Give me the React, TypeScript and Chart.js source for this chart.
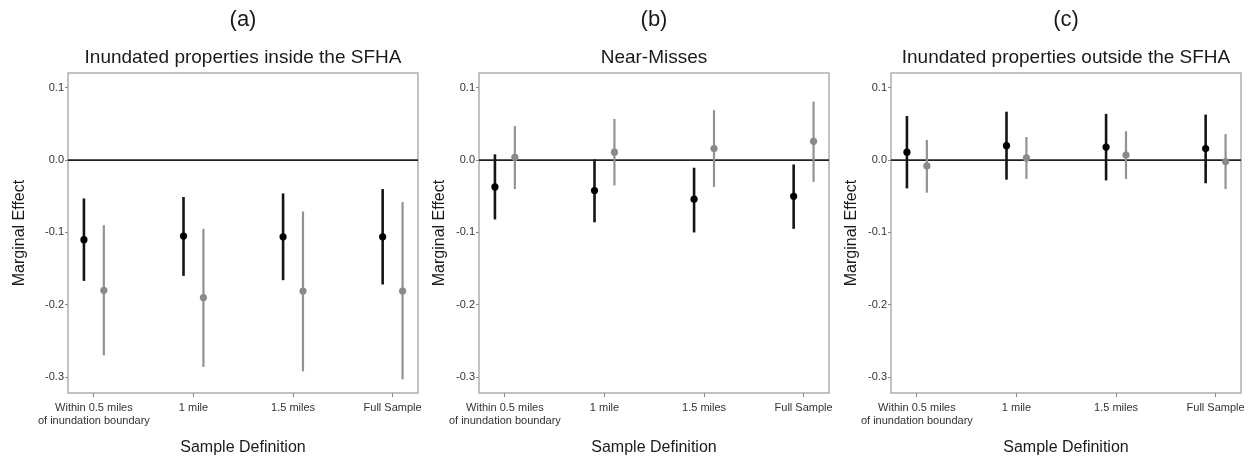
import React, { useEffect, useRef } from "react";
import { Chart, registerables } from "chart.js";

Chart.register(...registerables);

// ---------- data ----------
const CATEGORIES: (string | string[])[] = [
  ["Within 0.5 miles", "of inundation boundary"],
  "1 mile",
  "1.5 miles",
  "Full Sample",
];
const CATEGORY_POS = [1, 2, 3, 4];
const SERIES_OFFSET = 0.1;
const Y_TICKS = [-0.3, -0.2, -0.1, 0.0, 0.1];
const PANEL_LABELS = ["(a)", "(b)", "(c)"];
const PANEL_TITLES = [
  "Inundated properties inside the SFHA",
  "Near-Misses",
  "Inundated properties outside the SFHA",
];
const X_TITLE = "Sample Definition";
const Y_TITLE = "Marginal Effect";

// panel (a)
const A_BLACK_EST = [-0.11, -0.105, -0.106, -0.106];
const A_BLACK_LO = [-0.167, -0.16, -0.166, -0.172];
const A_BLACK_HI = [-0.053, -0.051, -0.046, -0.04];
const A_GRAY_EST = [-0.18, -0.19, -0.181, -0.181];
const A_GRAY_LO = [-0.27, -0.286, -0.292, -0.303];
const A_GRAY_HI = [-0.09, -0.095, -0.071, -0.058];

// panel (b)
const B_BLACK_EST = [-0.037, -0.042, -0.054, -0.05];
const B_BLACK_LO = [-0.082, -0.086, -0.1, -0.095];
const B_BLACK_HI = [0.008, 0.001, -0.0105, -0.006];
const B_GRAY_EST = [0.004, 0.011, 0.016, 0.026];
const B_GRAY_LO = [-0.04, -0.035, -0.037, -0.03];
const B_GRAY_HI = [0.047, 0.057, 0.069, 0.081];

// panel (c)
const C_BLACK_EST = [0.011, 0.02, 0.018, 0.016];
const C_BLACK_LO = [-0.039, -0.027, -0.028, -0.032];
const C_BLACK_HI = [0.061, 0.067, 0.064, 0.063];
const C_GRAY_EST = [-0.008, 0.003, 0.007, -0.002];
const C_GRAY_LO = [-0.045, -0.026, -0.026, -0.04];
const C_GRAY_HI = [0.028, 0.032, 0.04, 0.036];

const Y_MIN = -0.322;
const Y_MAX = 0.1205;
const X_MIN = 0.74;
const X_MAX = 4.255;

// ---------- styling ----------
const FONT = "'Liberation Sans', Arial, Helvetica, sans-serif";
const W = 440;
const H = 462;
const BLACK = "#000000";
const BLACK_BAR = "#151515";
const GRAY = "#8a8a8a";
const GRAY_BAR = "#929292";

const framePlugin = {
  id: "frameZero",
  beforeDatasetsDraw(chart: any) {
    const { ctx, chartArea, scales } = chart;
    const { left, top, right, bottom } = chartArea;
    ctx.save();
    ctx.strokeStyle = "#9a9a9a";
    ctx.lineWidth = 1.2;
    ctx.strokeRect(left, top, right - left, bottom - top);
    const y0 = scales.y.getPixelForValue(0);
    ctx.strokeStyle = "#222222";
    ctx.lineWidth = 1.6;
    ctx.beginPath();
    ctx.moveTo(left, y0);
    ctx.lineTo(right, y0);
    ctx.stroke();
    ctx.restore();
  },
};

type PanelProps = {
  left: number;
  index: number;
  yTitlePad: number;
  bEst: number[];
  bLo: number[];
  bHi: number[];
  gEst: number[];
  gLo: number[];
  gHi: number[];
};

function Panel(p: PanelProps) {
  const ref = useRef<HTMLCanvasElement | null>(null);
  useEffect(() => {
    if (!ref.current) return;
    const chart = new Chart(ref.current, {
      type: "scatter",
      data: {
        datasets: [
          {
            type: "bar",
            data: CATEGORY_POS.map((x, i) => ({ x: x - SERIES_OFFSET, y: [p.bLo[i], p.bHi[i]] })),
            backgroundColor: BLACK_BAR,
            borderWidth: 0,
            maxBarThickness: 2.6,
            grouped: false,
            order: 3,
          } as any,
          {
            type: "bar",
            data: CATEGORY_POS.map((x, i) => ({ x: x + SERIES_OFFSET, y: [p.gLo[i], p.gHi[i]] })),
            backgroundColor: GRAY_BAR,
            borderWidth: 0,
            maxBarThickness: 2.2,
            grouped: false,
            order: 3,
          } as any,
          {
            type: "scatter",
            data: CATEGORY_POS.map((x, i) => ({ x: x - SERIES_OFFSET, y: p.bEst[i] })),
            backgroundColor: BLACK,
            borderWidth: 0,
            pointRadius: 3.6,
            order: 1,
          },
          {
            type: "scatter",
            data: CATEGORY_POS.map((x, i) => ({ x: x + SERIES_OFFSET, y: p.gEst[i] })),
            backgroundColor: GRAY,
            borderWidth: 0,
            pointRadius: 3.6,
            order: 1,
          },
        ],
      },
      options: {
        animation: false,
        responsive: false,
        devicePixelRatio: 1,
        events: [],
        layout: { padding: { left: 0, right: W - 418, top: 0, bottom: 0 } },
        plugins: {
          legend: { display: false },
          tooltip: { enabled: false },
          title: {
            display: true,
            text: PANEL_LABELS[p.index],
            fullSize: false,
            color: "#1a1a1a",
            font: { family: FONT, size: 22, weight: "normal" },
            padding: { top: 6.8, bottom: 0 },
          },
          subtitle: {
            display: true,
            text: PANEL_TITLES[p.index],
            fullSize: false,
            color: "#1a1a1a",
            font: { family: FONT, size: 19, weight: "normal" },
            padding: { top: 13.4, bottom: 3.6 },
          },
        },
        scales: {
          x: {
            type: "linear",
            min: X_MIN,
            max: X_MAX,
            offset: false,
            afterBuildTicks: (s: any) => {
              s.ticks = CATEGORY_POS.map((v) => ({ value: v }));
            },
            afterFit: (s: any) => {
              s.height = H - 393;
            },
            ticks: {
              autoSkip: false,
              maxRotation: 0,
              padding: 4,
              color: "#333333",
              font: { family: FONT, size: 11, lineHeight: 1.22 },
              callback: (v: any) => {
                const k = CATEGORY_POS.indexOf(Number(v));
                return k >= 0 ? CATEGORIES[k] : "";
              },
            },
            grid: {
              display: true,
              offset: false,
              drawOnChartArea: false,
              drawTicks: true,
              tickLength: 4,
              color: "#888888",
            },
            border: { display: false },
            title: {
              display: true,
              text: X_TITLE,
              color: "#1a1a1a",
              font: { family: FONT, size: 16 },
              padding: { top: 0, bottom: 4.4 },
            },
          },
          y: {
            type: "linear",
            min: Y_MIN,
            max: Y_MAX,
            afterBuildTicks: (s: any) => {
              s.ticks = Y_TICKS.map((v) => ({ value: v }));
            },
            afterFit: (s: any) => {
              s.width = 68;
            },
            ticks: {
              padding: 1,
              color: "#333333",
              font: { family: FONT, size: 11 },
              callback: (v: any) => Number(v).toFixed(1),
            },
            grid: {
              display: true,
              drawOnChartArea: false,
              drawTicks: true,
              tickLength: 3,
              color: "#888888",
            },
            border: { display: false },
            title: {
              display: true,
              text: Y_TITLE,
              color: "#1a1a1a",
              font: { family: FONT, size: 16 },
              padding: { top: p.yTitlePad, bottom: 0 },
            },
          },
        },
      } as any,
      plugins: [framePlugin],
    });
    return () => chart.destroy();
  }, []);
  return (
    <canvas
      ref={ref}
      width={W}
      height={H}
      style={{ position: "absolute", left: p.left, top: 0, width: W, height: H }}
    />
  );
}

export default function App() {
  return (
    <div
      style={{
        position: "absolute",
        left: 0,
        top: 0,
        width: 1257,
        height: 462,
        background: "#ffffff",
        overflow: "hidden",
      }}
    >
      <Panel left={0} index={0} yTitlePad={9.5} bEst={A_BLACK_EST} bLo={A_BLACK_LO} bHi={A_BLACK_HI} gEst={A_GRAY_EST} gLo={A_GRAY_LO} gHi={A_GRAY_HI} />
      <Panel left={411} index={1} yTitlePad={18.5} bEst={B_BLACK_EST} bLo={B_BLACK_LO} bHi={B_BLACK_HI} gEst={B_GRAY_EST} gLo={B_GRAY_LO} gHi={B_GRAY_HI} />
      <Panel left={823} index={2} yTitlePad={18.5} bEst={C_BLACK_EST} bLo={C_BLACK_LO} bHi={C_BLACK_HI} gEst={C_GRAY_EST} gLo={C_GRAY_LO} gHi={C_GRAY_HI} />
    </div>
  );
}
